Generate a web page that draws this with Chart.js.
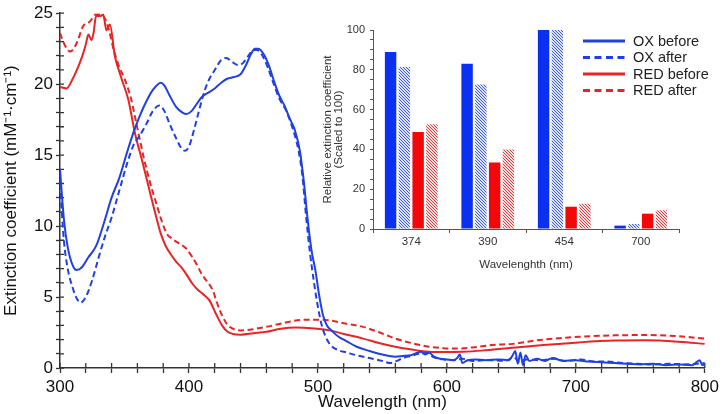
<!DOCTYPE html>
<html>
<head>
<meta charset="utf-8">
<script src="https://cdn.jsdelivr.net/npm/chart.js@4.4.1/dist/chart.umd.min.js"></script>
<style>
    html, body { margin: 0; padding: 0; background: #fff; }
    #wrap { position: relative; width: 723px; height: 414px; }
    #mainChart { position: absolute; left: 0; top: 0; }
    #insetChart { position: absolute; left: 318px; top: 12px; }
</style>
</head>
<body>
<div id="wrap">
    <canvas id="mainChart" width="723" height="414"></canvas>
    <canvas id="insetChart" width="405" height="262"></canvas>
</div>
<script>
// Spectra (main chart)
const oxBeforeNm = [300, 303, 306, 310, 313, 317, 322, 328, 334, 340, 346, 352, 357, 362, 367, 372, 376, 378, 381, 385, 390, 395, 398, 402, 406, 410, 415, 420, 425, 430, 435, 440, 444, 448, 451, 454, 458, 462, 466, 470, 474, 478, 482, 486, 489, 492, 495, 498, 501, 504, 507, 511, 516, 522, 530, 540, 550, 560, 566, 572, 576, 580, 583, 586, 590, 595, 600, 605, 608, 610, 612, 616, 622, 630, 640, 648, 651, 653, 655, 657, 659, 661, 664, 670, 676, 682, 690, 700, 710, 720, 730, 740, 750, 760, 770, 780, 790, 796, 798, 800];
const oxBeforeVal = [14.0, 10.5, 8.5, 7.2, 6.9, 7.1, 7.8, 8.6, 10.2, 12.0, 13.4, 15.2, 16.6, 17.8, 18.8, 19.6, 20.0, 20.1, 19.9, 19.2, 18.4, 18.0, 17.9, 18.1, 18.6, 19.1, 19.4, 19.7, 20.1, 20.4, 20.5, 20.7, 21.3, 22.1, 22.5, 22.5, 22.1, 21.3, 20.2, 19.2, 18.5, 17.6, 16.8, 15.3, 13.2, 10.5, 8.3, 6.9, 5.1, 3.7, 3.0, 2.6, 2.2, 1.9, 1.5, 1.2, 0.95, 0.8, 0.85, 0.9, 1.05, 1.15, 0.95, 1.1, 0.8, 0.65, 0.6, 0.55, 0.7, 0.95, 0.35, 0.55, 0.6, 0.55, 0.6, 0.55, 0.9, 1.2, 0.3, 1.1, 0.2, 0.9, 0.5, 0.65, 0.5, 0.7, 0.5, 0.55, 0.45, 0.4, 0.35, 0.3, 0.25, 0.3, 0.2, 0.25, 0.2, 0.55, 0.2, 0.3];

const oxAfterNm = [300, 303, 306, 310, 313, 316, 320, 325, 330, 335, 340, 346, 352, 357, 362, 367, 372, 377, 381, 385, 390, 394, 397, 400, 404, 408, 412, 416, 420, 425, 429, 433, 438, 442, 446, 450, 453, 457, 461, 465, 470, 475, 480, 485, 488, 491, 494, 497, 500, 503, 506, 510, 516, 522, 530, 540, 550, 556, 560, 566, 572, 578, 584, 590, 598, 606, 612, 620, 632, 645, 652, 656, 662, 672, 684, 692, 704, 714, 724, 736, 748, 760, 772, 784, 794, 800];
const oxAfterVal = [13.0, 9.0, 7.0, 5.6, 4.9, 4.6, 5.0, 6.2, 7.8, 9.3, 10.6, 12.5, 14.4, 15.7, 16.4, 17.2, 18.1, 18.5, 18.1, 17.2, 16.2, 15.5, 15.3, 15.6, 16.8, 18.2, 19.5, 20.4, 21.0, 21.7, 21.85, 21.6, 21.35, 21.5, 22.0, 22.4, 22.4, 22.0, 21.2, 20.2, 19.0, 18.2, 17.0, 15.3, 13.5, 10.5, 8.0, 6.0, 4.3, 3.0, 2.2, 1.6, 1.25, 1.1, 0.9, 0.7, 0.5, 0.35, 0.45, 0.7, 0.85, 1.0, 1.05, 0.75, 0.6, 0.55, 0.65, 0.5, 0.55, 0.5, 0.75, 0.45, 0.6, 0.55, 0.65, 0.5, 0.6, 0.45, 0.45, 0.35, 0.3, 0.25, 0.3, 0.25, 0.3, 0.35];

const redBeforeNm = [300, 305, 310, 314, 317, 320, 322, 324.5, 326, 328, 331, 333.5, 336, 338.7, 342.5, 347.7, 353, 358, 364, 370, 375, 378, 382, 386, 390, 394, 398, 403, 407, 411, 416, 421, 426, 430, 434, 440, 450, 460, 470, 483, 495, 509, 520, 535, 548, 560, 573, 586, 600, 612, 630, 651, 675, 702, 730, 754, 780, 800];
const redBeforeVal = [19.8, 19.7, 20.4, 21.2, 21.9, 22.8, 23.5, 23.1, 23.6, 24.8, 24.8, 24.9, 23.8, 24.2, 22.0, 20.4, 18.9, 16.6, 14.5, 12.3, 10.5, 9.5, 8.6, 8.0, 7.5, 7.1, 6.6, 5.9, 5.5, 5.2, 4.75, 3.8, 2.95, 2.55, 2.4, 2.35, 2.45, 2.55, 2.75, 2.85, 2.8, 2.65, 2.4, 2.07, 1.75, 1.5, 1.3, 1.15, 1.12, 1.14, 1.25, 1.42, 1.62, 1.8, 1.93, 1.95, 1.85, 1.7];

const redAfterNm = [300, 304, 308, 313, 318, 323, 328, 332, 335, 338, 342, 346, 350, 355, 360, 365, 370, 374, 378, 382.6, 387, 390, 394, 398, 402, 406, 410, 414, 418.6, 421, 424, 428, 431.5, 436, 440, 447, 460, 470, 480, 491, 500, 509, 520, 535, 548, 560, 573, 586, 597, 607, 620, 635, 651, 670, 702, 730, 754, 778, 800];
const redAfterVal = [23.6, 22.7, 22.3, 22.9, 24.1, 24.4, 24.9, 24.9, 24.6, 23.8, 22.3, 21.2, 20.4, 19.0, 16.9, 14.8, 13.0, 11.8, 10.6, 9.5, 9.1, 8.9, 8.7, 8.4, 7.9, 7.3, 6.6, 6.1, 5.45, 4.8, 4.05, 3.3, 2.9, 2.7, 2.65, 2.7, 2.9, 3.1, 3.3, 3.4, 3.4, 3.35, 3.15, 2.9, 2.5, 2.07, 1.75, 1.5, 1.4, 1.37, 1.45, 1.62, 1.7, 1.95, 2.2, 2.3, 2.32, 2.25, 2.07];

const seriesLabels = ['OX before', 'OX after', 'RED before', 'RED after'];

// Inset bar chart
const insetCategories = ['374', '390', '454', '700'];
const oxBeforeRel = [89, 83, 100, 1.7];
const oxAfterRel = [81.4, 72.6, 100, 2.5];
const redBeforeRel = [48.7, 33.4, 11.2, 7.7];
const redAfterRel = [52.7, 40, 12.7, 9.4];

const FONT = "'Liberation Sans', Arial, Helvetica, sans-serif";
const BLUE = 'rgb(32, 64, 228)';
const RED = 'rgb(232, 36, 36)';
const BAR_BLUE = 'rgb(12, 48, 240)';
const BAR_RED = 'rgb(242, 8, 8)';

Chart.defaults.font.family = FONT;

function toPoints(xs, ys) {
    return xs.map((x, i) => ({ x: x, y: ys[i] }));
}

// Ticks that also poke into the plot area
const innerTicks = {
    id: 'innerTicks',
    beforeDatasetsDraw(chart) {
        const { ctx, chartArea, scales } = chart;
        ctx.save();
        ctx.strokeStyle = '#333';
        ctx.lineWidth = 1.3;
        ctx.beginPath();
        scales.x.ticks.forEach(t => {
            const px = scales.x.getPixelForValue(t.value);
            ctx.moveTo(px, chartArea.bottom);
            ctx.lineTo(px, chartArea.bottom - 5);
        });
        scales.y.ticks.forEach(t => {
            const py = scales.y.getPixelForValue(t.value);
            ctx.moveTo(chartArea.left, py);
            ctx.lineTo(chartArea.left + 4, py);
        });
        ctx.stroke();
        ctx.restore();
    }
};

function lineDataset(i, xs, ys, color, dashed) {
    return {
        label: seriesLabels[i],
        data: toPoints(xs, ys),
        borderColor: color,
        borderWidth: 2,
        borderDash: dashed ? [6, 3.5] : [],
        pointRadius: 0,
        cubicInterpolationMode: 'monotone',
        fill: false
    };
}

const mainCtx = document.getElementById('mainChart').getContext('2d');
new Chart(mainCtx, {
    type: 'line',
    data: {
        datasets: [
            lineDataset(0, oxBeforeNm, oxBeforeVal, BLUE, false),
            lineDataset(1, oxAfterNm, oxAfterVal, BLUE, true),
            lineDataset(2, redBeforeNm, redBeforeVal, RED, false),
            lineDataset(3, redAfterNm, redAfterVal, RED, true)
        ]
    },
    options: {
        responsive: false,
        animation: false,
        layout: { padding: { top: 8, right: 17, left: 0, bottom: 0 } },
        plugins: {
            legend: { display: false },
            tooltip: { enabled: false }
        },
        scales: {
            x: {
                type: 'linear',
                min: 300,
                max: 800,
                ticks: {
                    stepSize: 20,
                    autoSkip: false,
                    maxRotation: 0,
                    color: '#111',
                    font: { size: 17 },
                    padding: 4,
                    callback: v => (v % 100 === 0 ? v : '')
                },
                grid: { drawOnChartArea: false, tickLength: 5, color: '#333', tickWidth: 1.3 },
                border: { color: '#333', width: 1.5 },
                title: {
                    display: true,
                    text: 'Wavelength (nm)',
                    color: '#111',
                    font: { size: 17 },
                    padding: { top: 0, bottom: 1 }
                },
                afterFit: s => { s.height = 46; }
            },
            y: {
                min: 0,
                max: 25,
                ticks: {
                    stepSize: 1,
                    autoSkip: false,
                    color: '#111',
                    font: { size: 17 },
                    padding: 3,
                    callback: v => (v % 5 === 0 ? v : '')
                },
                grid: { drawOnChartArea: false, tickLength: 4, color: '#333', tickWidth: 1.3 },
                border: { color: '#333', width: 1.5 },
                title: {
                    display: true,
                    text: 'Extinction coefficient (mM⁻¹·cm⁻¹)',
                    color: '#111',
                    font: { size: 17 },
                    padding: { top: 1, bottom: 0 }
                },
                afterFit: s => { s.width = 60; }
            }
        }
    },
    plugins: [innerTicks]
});

// Inset
const insetCanvas = document.getElementById('insetChart');
const insetCtx = insetCanvas.getContext('2d');

function hatch(bg, line) {
    const c = document.createElement('canvas');
    c.width = 3;
    c.height = 3;
    const g = c.getContext('2d');
    g.fillStyle = bg;
    g.fillRect(0, 0, 3, 3);
    g.strokeStyle = line;
    g.lineWidth = 1;
    g.beginPath();
    g.moveTo(0, 0); g.lineTo(3, 3);
    g.moveTo(-1, 2); g.lineTo(1, 4);
    g.moveTo(2, -1); g.lineTo(4, 1);
    g.stroke();
    return insetCtx.createPattern(c, 'repeat');
}

// Legend for the spectra, drawn over the inset
const lineLegend = {
    id: 'lineLegend',
    afterDraw(chart) {
        const ctx = chart.ctx;
        ctx.save();
        ctx.font = '14.5px ' + FONT;
        ctx.textBaseline = 'middle';
        seriesLabels.forEach((label, i) => {
            const y = 29 + i * 16.5;
            ctx.strokeStyle = i < 2 ? BLUE : RED;
            ctx.lineWidth = 3;
            ctx.setLineDash(i % 2 ? [7, 4.5] : []);
            ctx.beginPath();
            ctx.moveTo(265, y);
            ctx.lineTo(307, y);
            ctx.stroke();
            ctx.fillStyle = '#222';
            ctx.fillText(label, 315, y + 0.5);
        });
        ctx.restore();
    }
};

new Chart(insetCtx, {
    type: 'bar',
    data: {
        labels: insetCategories,
        datasets: [
            { label: seriesLabels[0], data: oxBeforeRel, backgroundColor: BAR_BLUE },
            { label: seriesLabels[1], data: oxAfterRel, backgroundColor: hatch('#dde3fb', '#3d5ce6') },
            { label: seriesLabels[2], data: redBeforeRel, backgroundColor: BAR_RED },
            { label: seriesLabels[3], data: redAfterRel, backgroundColor: hatch('#fbdede', '#e23a3a') }
        ]
    },
    options: {
        responsive: false,
        animation: false,
        layout: { padding: { top: 18, right: 44, left: 0, bottom: 0 } },
        datasets: { bar: { categoryPercentage: 0.72, barPercentage: 0.83 } },
        plugins: {
            legend: { display: false },
            tooltip: { enabled: false }
        },
        scales: {
            x: {
                grid: { offset: true, drawOnChartArea: false, tickLength: 4, color: '#555' },
                border: { color: '#555' },
                ticks: { color: '#333', font: { size: 11.5 }, padding: 2 },
                title: {
                    display: true,
                    text: 'Wavelenghth (nm)',
                    color: '#333',
                    font: { size: 11.5 },
                    padding: { top: 0, bottom: 2 }
                },
                afterFit: s => { s.height = 45; }
            },
            y: {
                min: 0,
                max: 100,
                ticks: {
                    stepSize: 5,
                    autoSkip: false,
                    color: '#333',
                    font: { size: 11 },
                    padding: 5,
                    callback: v => (v % 20 === 0 ? v : '')
                },
                grid: { drawOnChartArea: false, tickLength: 3, color: '#555' },
                border: { color: '#555' },
                title: {
                    display: true,
                    text: ['Relative extinction coefficient', '(Scaled to 100)'],
                    color: '#333',
                    font: { size: 11.5, lineHeight: 0.9 },
                    padding: { top: 5, bottom: 0 }
                },
                afterFit: s => { s.width = 55; }
            }
        }
    },
    plugins: [lineLegend]
});
</script>
</body>
</html>
